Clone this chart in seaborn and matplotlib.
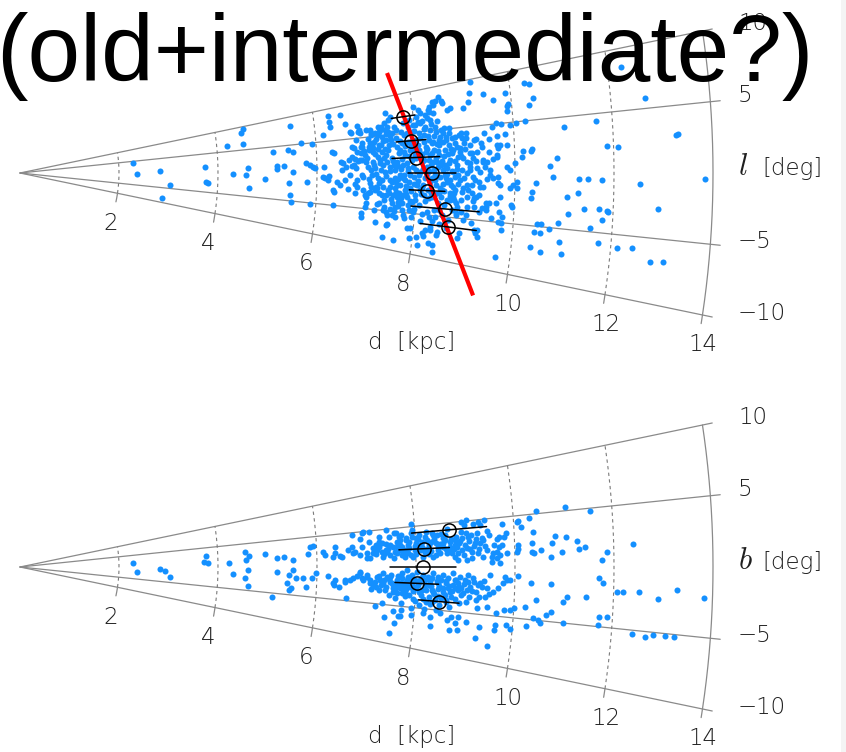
import numpy as np
import pandas as pd
import matplotlib
matplotlib.use("Agg")
import matplotlib.pyplot as plt
from matplotlib.patches import Rectangle
import seaborn as sns

# ---------------------------------------------------------------------------
# Stars in the longitude wedge: (distance d [kpc], longitude l [deg])
# ---------------------------------------------------------------------------
l_stars_near = np.array([
    (2.28, 4.3), (2.36, -0.4), (2.83, 0.7), (3.03, -3.9), (2.91, -8.4), (3.74, 1.6), (3.76, -2.4), (3.80, -2.6), (4.20, 6.3), (4.30, -0.2),
    (4.51, 8.7), (4.57, 9.5), (4.53, 6.3), (4.57, -0.4), (4.61, 1.1), (4.63, -3.2), (4.95, -1.2), (5.13, 4.0), (5.19, 1.3), (5.19, 0.8),
    (5.33, 1.3), (5.43, 4.2), (5.52, 3.7), (5.52, 8.4), (5.52, 0.2), (5.43, -1.8), (5.47, -3.9), (5.49, -5.2), (5.70, 5.2), (5.78, 1.7),
    (5.86, 1.3), (5.92, 1.0), (5.80, -1.5), (5.88, -5.2), (5.92, 4.8), (5.96, 0.8), (6.16, 6.1), (6.16, -0.8), (6.30, 8.9), (6.53, 8.7),
    (6.30, 7.9), (6.32, 7.1), (6.32, 3.3), (6.36, 3.1), (6.32, -2.6), (6.36, -2.9), (6.34, -5.0), (6.22, -1.1), (6.40, -1.4), (6.46, -1.8),
    (6.48, 1.7), (6.61, 7.3), (6.63, -2.4), (6.71, 6.0), (6.73, 5.8), (6.73, 3.8), (6.75, 1.2), (6.79, 0.7), (6.81, -2.0), (6.85, 6.7),
    (6.89, 2.9), (6.93, 3.7), (6.93, -6.2), (6.99, -3.1), (7.03, -2.8), (7.03, 0.8), (7.09, 0.4), (7.11, 5.9), (7.13, 5.2), (7.09, 4.2),
    (7.21, -2.0), (7.23, -6.7), (7.27, -0.9), (7.37, -4.9), (7.39, -8.5), (7.45, -6.8), (7.62, -8.6), (7.54, -2.9), (6.89, 6.1), (6.91, 5.7),
    (7.27, 6.2), (7.29, 5.5), (7.41, 6.6), (7.45, 7.9), (7.49, 6.9), (7.54, 7.3), (6.77, 3.6), (6.91, 3.7), (7.13, 3.9), (7.15, 3.4),
    (7.27, 3.8), (7.33, 4.8), (7.43, 5.2), (7.52, 4.3), (7.47, 5.4), (6.53, 1.5), (6.65, 1.9), (6.81, 3.0), (6.83, 1.7), (6.91, 1.8),
    (6.97, 2.5), (7.07, 3.2), (7.17, 2.6), (7.23, 2.2), (7.33, 2.8), (7.41, 2.4), (6.14, 1.0), (6.51, 0.5), (6.59, 0.9), (6.71, 1.0),
    (6.77, 2.0), (6.12, -0.6), (6.24, -0.5), (6.77, -1.6), (6.81, -1.0), (7.07, -2.6), (7.01, -3.4), (7.19, -1.9), (7.47, -2.6), (7.60, -2.5),
    (7.62, -3.1), (7.74, -2.8), (7.47, -1.8), (6.99, -4.8), (7.23, -4.2), (7.37, -4.5), (7.54, -3.9), (7.60, -4.4), (7.66, -3.7), (7.45, -5.5),
    (7.47, -6.7), (7.62, -5.7), (7.78, -5.3), (7.74, -3.8),
])

l_stars_far = np.array([
    (9.23, 9.7), (9.17, 8.6), (9.45, 8.2), (9.90, 8.0), (8.55, 8.8), (8.61, 8.0), (8.42, 8.3), (8.48, 8.4), (9.13, 7.7), (9.01, 7.1),
    (9.90, 6.7), (9.90, 6.2), (8.02, 8.1), (8.12, 7.6), (8.14, 7.2), (8.34, 7.8), (8.32, 7.4), (8.24, 6.9), (8.40, 7.0), (8.34, 6.2),
    (8.08, 6.2), (7.98, 5.9), (7.94, 5.1), (8.22, 5.5), (8.32, 5.1), (8.44, 4.8), (8.59, 5.1), (8.71, 5.1), (8.93, 4.4), (9.03, 3.8),
    (9.19, 3.5), (9.49, 3.5), (9.66, 3.8), (9.82, 3.9), (9.94, 4.7), (10.06, 4.9), (8.63, 4.1), (8.48, 3.8), (8.36, 3.6), (8.69, 3.2),
    (8.83, 2.9), (8.75, 2.6), (8.89, 2.3), (8.85, 1.8), (8.95, 1.6), (9.03, 1.2), (9.33, 3.2), (9.70, 2.8), (9.66, 2.5), (9.86, 2.8),
    (9.13, 2.2), (9.15, 1.6), (9.35, 1.4), (9.43, 1.1), (9.39, 0.6), (9.56, 1.4), (9.64, 1.6), (9.84, 0.6), (9.90, 0.3), (10.00, 1.0),
    (9.09, 0.6), (9.23, 0.5), (9.29, 0.1), (9.15, -0.4), (9.03, 0.0), (8.93, 0.3), (8.85, -0.2), (8.75, 0.1), (9.49, -0.2), (9.56, -0.5),
    (9.66, -0.4), (9.43, -0.6), (9.35, -1.5), (9.29, -1.5), (9.13, -1.3), (8.95, -1.6), (8.93, -2.1), (9.70, -1.2), (9.90, -1.5), (10.04, -0.9),
    (9.96, -1.2), (8.69, -2.3), (8.75, -2.7), (8.93, -3.0), (9.03, -2.6), (9.13, -2.2), (9.19, -2.7), (9.29, -2.3), (9.70, -2.4), (9.49, -3.1),
    (9.64, -3.1), (9.19, -3.6), (9.05, -3.7), (9.29, -4.1), (9.43, -3.9), (8.85, -3.8), (8.93, -4.3), (8.83, -4.7), (9.70, -3.9), (9.54, -4.6),
    (9.70, -5.0), (9.76, -4.4), (8.99, -5.1), (9.15, -5.4), (9.29, -6.0), (8.34, -6.4), (8.24, -6.8), (8.18, -7.2), (8.08, -7.8), (7.94, -6.8),
    (7.94, -8.0), (8.48, -6.9), (8.93, -6.6), (8.89, -7.2), (9.25, -6.4), (8.12, -8.7), (8.32, -8.3), (8.42, -8.4), (8.44, -9.2), (9.70, -8.5),
    (10.30, 8.6), (10.40, 8.4), (10.44, 7.1), (9.92, 6.8), (10.34, 6.5), (12.28, 8.5), (12.69, 5.8), (10.24, 5.0), (9.76, 4.9), (11.01, 4.1),
    (11.68, 4.4), (13.27, 2.8), (13.31, 2.9), (10.16, 2.1), (10.34, 2.1), (10.36, 2.3), (10.14, 1.5), (10.85, 1.4), (11.86, 2.2), (12.08, 2.1),
    (10.71, 0.6), (10.77, -0.4), (13.84, -0.4), (11.29, -0.5), (11.47, -0.5), (11.76, -0.6), (12.53, -0.9), (10.42, -0.9), (11.27, -1.7), (10.34, -1.8),
    (10.34, -2.4), (10.04, -1.5), (9.94, -3.2), (9.96, -3.4), (11.05, -2.1), (11.41, -3.1), (11.72, -3.0), (11.88, -3.1), (12.91, -2.7), (11.09, -3.6),
    (11.78, -3.9), (11.90, -3.2), (10.91, -4.5), (11.56, -4.7), (9.76, -5.0), (9.76, -5.7), (10.48, -4.8), (10.57, -4.7), (10.44, -5.6), (10.55, -5.6),
    (10.73, -5.1), (10.95, -6.2), (11.01, -7.2), (10.38, -7.0), (10.59, -7.3), (11.74, -5.9), (12.12, -6.1), (12.42, -5.9), (12.81, -6.8), (13.07, -6.7),
    (9.29, -6.8), (9.43, -3.5),
])

l_stars_core = np.array([
    (8.32, 7.2), (8.28, 6.5), (8.42, 7.9), (8.59, 8.3), (8.69, 7.1), (8.75, 7.3), (9.64, 7.5),
    (6.87, 5.9), (7.03, 6.0), (7.13, 5.5), (7.27, 5.1), (7.33, 6.2), (7.41, 5.7), (7.54, 5.2), (7.64, 5.5), (7.88, 5.7), (8.02, 5.9),
    (8.12, 6.0), (8.42, 5.4), (8.53, 5.0), (8.69, 4.5), (8.81, 4.0), (8.89, 4.2), (9.03, 4.3), (9.23, 3.6), (9.39, 4.2), (9.56, 4.7), (9.66, 5.1),
    (6.81, 4.8), (6.93, 4.3), (7.07, 3.6), (7.17, 4.2), (7.31, 3.8), (7.41, 4.4), (7.47, 3.7), (7.62, 3.4), (7.74, 3.8), (8.02, 4.0),
    (8.18, 3.7), (8.22, 3.1), (8.34, 3.5), (8.48, 3.2), (8.63, 3.8), (8.89, 2.8), (8.99, 3.3), (9.09, 2.2), (9.23, 2.2), (9.35, 2.7),
    (9.49, 2.2), (9.64, 2.9), (9.64, 1.8),
    (6.71, 2.3), (6.87, 1.9), (7.01, 2.1), (7.13, 1.5), (7.27, 1.8), (7.33, 1.1), (7.47, 0.8), (7.62, 1.4), (7.74, 1.0), (7.84, 0.6),
    (8.12, 1.3), (8.22, 0.7), (8.42, 1.3), (8.59, 0.9), (8.69, 1.5), (8.83, 0.9), (9.09, 1.1), (9.35, 1.2), (9.49, 0.3),
    (6.93, -0.6), (7.07, -1.4), (7.23, -0.7), (7.33, -1.9), (7.47, -0.9), (7.62, -1.5), (7.78, -0.9), (7.88, -1.9), (8.02, -1.5), (8.48, -0.5),
    (8.63, -1.0), (8.75, -1.6), (8.89, -0.8), (9.03, -1.3), (9.19, -0.7), (9.66, -1.0),
    (6.77, -2.9), (6.93, -2.4), (7.27, -2.7), (7.37, -3.6), (7.68, -3.8), (7.82, -3.0), (7.94, -3.6), (8.34, -2.8), (8.48, -2.3), (8.63, -3.1),
    (8.83, -3.3), (9.23, -2.6), (9.43, -3.1),
    (6.93, -5.7), (7.54, -5.5), (7.74, -4.7), (7.94, -5.4), (8.24, -4.6), (8.42, -5.1), (8.69, -5.3), (8.83, -4.4), (9.03, -4.6), (9.35, -3.7),
    (7.88, -6.9), (8.22, -7.6), (8.34, -6.7), (8.48, -7.2), (9.23, -6.1),
    (7.68, 2.9), (7.78, 2.3), (7.88, 2.9), (7.98, 2.2), (8.08, 2.8), (7.92, 1.6), (8.28, 2.1), (8.38, 2.7), (8.48, 2.1), (8.59, 2.6),
    (7.68, -0.3), (7.88, -0.2), (8.08, 0.1), (8.18, -0.6), (8.28, -1.1), (8.38, -0.2), (8.48, -1.7), (8.08, -2.1), (8.18, -2.6), (7.98, -2.7),
    (7.78, -2.1), (7.58, -0.6), (7.68, -1.5), (8.59, -0.2), (8.69, -0.8), (7.58, 0.4), (7.94, 4.1), (7.78, 4.8), (8.18, 4.6), (8.28, 3.9),
    (7.37, 0.1), (7.17, 0.7), (6.91, -0.3), (6.67, -0.3), (6.57, -1.0), (8.08, -3.9), (7.88, -4.6), (8.59, -3.7), (8.48, -4.3), (8.69, -3.1),
    (8.79, -1.9),
])

l_stars_center = np.array([
    (7.05, 4.7), (7.22, 4.6), (7.38, 3.2), (7.52, 2.0), (7.66, 2.5), (7.72, 1.8), (7.80, 3.4), (7.86, 3.9), (7.95, 3.0), (8.05, 3.4),
    (8.12, 2.3), (8.20, 2.5), (8.26, 1.6), (8.33, 2.3), (8.40, 1.8), (8.46, 2.5), (8.52, 1.4), (8.57, 1.9), (8.66, 2.1), (8.72, 2.7),
    (7.15, 1.1), (7.30, 0.4), (7.42, 1.5), (7.55, 1.1), (7.70, 0.5), (7.82, 1.3), (7.95, 0.7), (8.00, 1.9), (8.14, 0.5), (8.30, 0.9),
    (8.36, 0.3), (8.45, 0.7), (8.55, 0.3), (8.63, 0.6), (8.72, 0.2), (8.80, 1.3),
    (7.12, -0.3), (7.25, -1.3), (7.40, -0.4), (7.52, -1.2), (7.64, -0.8), (7.75, -0.2), (7.85, -1.1), (7.95, -0.5), (8.05, -1.0), (8.12, -1.8),
    (8.22, -0.1), (8.32, -0.6), (8.40, -1.4), (8.55, -1.3), (8.60, -0.6), (8.78, -0.4),
    (7.18, -2.3), (7.32, -3.0), (7.44, -2.2), (7.58, -2.0), (7.70, -3.2), (7.80, -2.6), (7.90, -2.2), (8.00, -3.3), (8.10, -2.5), (8.25, -2.0),
    (8.28, -3.0), (8.40, -2.5), (8.52, -2.8), (8.58, -2.1), (8.70, -2.6), (8.78, -3.0),
    (7.28, -4.0), (7.50, -4.7), (7.65, -4.2), (7.85, -4.0), (7.98, -4.4), (8.15, -4.9), (8.30, -5.2), (8.38, -4.3), (8.55, -4.8), (8.62, -5.5),
    (8.75, -4.1),
    (7.20, 5.4), (7.35, 4.3), (7.50, 4.8), (7.62, 4.5), (7.72, 5.2), (7.85, 5.0), (8.00, 5.2), (8.10, 4.9), (8.26, 4.4), (8.38, 4.3),
    (8.50, 4.2), (8.58, 4.6), (8.75, 3.9), (8.80, 3.4), (8.95, 3.8), (9.10, 3.0),
    (6.95, 3.1), (7.00, 1.5), (7.05, -0.9), (7.10, -2.0), (7.15, 2.9), (7.20, -0.2), (7.25, 3.3), (7.28, 1.4), (7.32, -1.0), (7.36, 2.0),
    (7.40, -2.9), (7.44, 3.0), (7.48, 0.2), (7.50, -3.4), (7.53, 1.6), (7.56, 3.8), (7.60, -1.1), (7.63, 0.9), (7.67, -2.6), (7.70, 4.1),
    (7.73, -0.6), (7.76, 2.7), (7.80, -1.6), (7.83, 0.2), (7.86, 2.1), (7.90, -3.5), (7.92, 3.5), (7.96, -1.3), (8.00, 0.4), (8.03, 2.5),
    (8.06, -0.3), (8.10, 4.3), (8.14, -1.4), (8.17, 1.6), (8.20, -3.3), (8.24, 2.9), (8.27, 0.2), (8.31, -2.4), (8.35, 1.3), (8.39, -0.8),
    (8.43, 3.4), (8.47, -3.5), (8.51, 0.9), (8.54, -2.0), (8.57, 3.6), (8.62, -0.1), (8.66, 1.1), (8.70, -1.4), (8.74, 2.3), (8.78, -2.2),
    (8.82, 0.5), (8.86, -1.2), (8.91, 1.9), (8.96, -0.5), (9.00, 2.6), (9.05, -1.8), (9.10, 0.3), (9.16, -3.0), (9.22, 1.3), (9.28, -0.9),
    (7.00, -4.2), (7.18, -5.0), (7.42, -5.1), (7.58, -4.9), (7.80, -5.7), (7.96, -4.8), (8.12, -5.8), (8.36, -5.7), (8.50, -5.9), (8.65, -6.2),
    (7.30, 5.8), (7.46, 6.1), (7.60, 5.9), (7.78, 6.3), (7.92, 6.6), (8.05, 6.8), (8.18, 6.3), (8.20, 5.3), (8.35, 5.8), (8.48, 6.0),
])

# ---------------------------------------------------------------------------
# Stars in the latitude wedge: (distance d [kpc], latitude b [deg])
# ---------------------------------------------------------------------------
b_stars_near = np.array([
    (2.28, 1.7), (2.36, -2.1), (2.83, -0.7), (2.93, -1.3), (3.03, -3.2), (3.76, 2.9), (3.72, 1.3), (3.80, 1.0), (4.22, 0.9), (4.30, -1.6),
    (4.55, 3.2), (4.63, 2.3), (4.57, 1.5), (4.61, -0.6), (4.55, -2.4), (4.61, -4.1), (4.95, 2.6), (5.19, 1.7), (5.33, 1.8), (5.19, -0.9),
    (5.11, -5.8), (5.43, -1.4), (5.52, -0.5), (5.52, 1.2), (5.41, -2.9), (5.45, -4.1), (5.49, -3.8), (5.58, -1.9), (5.72, -1.9), (5.78, -3.4),
    (5.90, -1.8), (5.98, -1.0), (5.82, 2.2), (5.86, 3.4), (5.94, 3.5), (6.22, -1.4), (6.12, 2.4), (6.16, 1.9), (6.32, 1.6), (6.36, 2.2),
    (6.32, -2.5), (6.36, -2.8), (6.46, -3.0), (6.57, -2.2), (6.67, -1.9), (6.73, -1.6), (6.61, -4.6), (6.46, 1.7), (6.63, 2.5), (6.71, 2.9),
    (6.73, 2.0), (6.87, 1.7), (6.91, 2.8), (6.73, 4.7), (6.93, 4.8), (7.07, 4.9), (7.01, 2.0), (7.07, 1.2), (7.13, 1.9), (7.21, 2.3),
    (7.27, 2.7), (7.33, 1.3), (7.41, 2.0), (7.47, 1.6), (7.54, 2.6), (7.62, 1.8), (7.68, 2.2), (7.07, 3.5), (7.27, 4.1), (7.33, 3.2),
    (7.43, 4.9), (7.58, 4.4), (7.68, 3.8), (7.62, 3.2), (6.87, -0.9), (6.93, -1.8), (7.01, -1.4), (7.07, -2.2), (7.21, -2.7), (7.27, -3.1),
    (7.33, -2.1), (7.41, -1.3), (7.47, -2.0), (7.54, -2.7), (7.62, -3.4), (7.68, -2.3), (7.74, -2.9), (7.82, -1.6), (7.88, -3.5), (7.94, -2.5),
    (7.21, -5.3), (7.33, -4.8), (7.58, -5.7), (7.68, -6.3), (7.62, -7.2), (7.54, -8.6),
    (6.38, 3.1), (6.51, 1.5), (6.77, 2.2), (6.89, 4.0), (6.95, 4.9), (7.01, 1.3), (7.13, 2.6), (7.21, 3.0), (7.27, 3.4), (7.31, 2.0),
    (7.41, 2.3), (7.47, 3.9), (7.62, 4.4), (7.68, 2.8), (7.74, 2.2), (7.82, 3.4),
    (6.36, -2.0), (6.57, -1.9), (6.81, -1.3), (6.87, -0.7), (6.91, -1.6), (7.01, -1.1), (7.13, -2.5), (7.21, -1.4), (7.27, -1.8), (7.33, -0.8),
    (7.47, -1.3), (7.54, -2.3), (7.62, -1.7), (7.68, -2.7), (7.78, -2.0), (7.84, -1.3), (7.47, -3.7), (7.78, -3.2),
])

b_stars_core = np.array([
    (7.94, 5.3), (8.95, 4.9), (8.99, 4.6), (9.19, 4.6), (9.41, 4.9), (9.33, 4.4), (9.76, 4.3), (10.06, 4.4), (7.72, 4.1), (7.82, 3.6),
    (7.94, 3.7), (8.08, 3.9), (8.22, 4.2), (8.34, 4.0), (8.44, 3.7), (8.55, 3.3), (8.69, 2.8), (8.83, 3.3), (8.95, 3.2), (9.03, 3.7),
    (9.13, 3.4), (9.25, 3.6), (9.49, 3.3), (9.70, 3.0), (9.84, 3.4), (9.64, 2.8), (7.72, 2.5), (7.84, 2.8), (8.02, 2.9), (8.28, 2.6),
    (8.42, 2.8), (8.55, 2.3), (8.69, 2.3), (8.83, 2.2), (8.93, 1.9), (9.03, 2.1), (9.13, 1.6), (9.25, 1.5), (9.13, 1.0), (9.35, 1.0),
    (9.54, 1.0), (9.70, 1.2), (9.84, 1.4), (10.04, 1.5), (10.06, 2.1), (7.72, 1.5), (7.78, 1.3), (7.84, 1.8), (7.94, 1.2), (8.34, 1.2),
    (8.63, 1.6), (8.79, 1.1), (8.85, 0.8), (9.03, 0.8), (9.70, 0.4), (9.64, 0.9), (9.54, 0.5),
    (7.72, -0.8), (7.82, -0.4), (7.92, -1.0), (8.02, -0.6), (8.14, -1.0), (8.24, -1.2), (8.34, -0.7), (8.44, -1.2), (8.55, -0.9), (8.65, -1.2),
    (8.75, -0.7), (8.89, -1.1), (8.99, -1.4), (9.05, -0.9), (9.15, -1.2), (9.25, -1.9), (9.33, -2.1), (9.45, -2.2), (9.49, -0.8), (9.66, -2.1),
    (9.76, -1.6), (9.84, -1.3), (10.06, -0.9), (8.34, -2.7), (8.55, -2.4), (8.69, -2.8), (8.75, -2.0), (8.85, -2.6), (8.93, -3.1), (9.03, -2.5),
    (9.09, -3.2), (9.23, -2.7), (9.29, -3.2), (7.88, -2.5), (7.74, -3.3), (7.72, -4.6), (7.74, -5.5), (7.94, -5.1), (8.08, -4.6), (8.22, -4.2),
    (8.34, -4.1), (8.48, -4.4), (8.63, -4.0), (8.89, -4.0), (9.03, -3.8), (9.23, -3.5), (7.94, -5.9), (8.18, -5.5), (8.32, -5.9), (8.53, -5.3),
    (8.75, -5.6), (8.89, -5.5), (9.05, -6.0), (9.25, -4.4), (9.45, -4.2), (9.64, -4.7), (10.00, -4.0), (8.34, -6.9), (8.73, -7.1), (8.83, -6.2),
    (9.33, -6.3), (9.64, -5.9), (9.64, -6.4), (9.86, -5.8), (9.54, -8.2),
    (7.98, 2.1), (8.18, 1.8), (8.44, 2.0), (8.08, 2.7), (8.59, 3.1), (8.79, 2.5), (8.24, 3.2), (7.98, -1.6), (8.18, -2.2), (8.44, -1.9),
    (8.08, -3.0), (8.59, -3.2), (8.79, -1.5), (8.28, -3.6), (8.08, -1.6),
])

b_stars_center = np.array([
    (7.55, 1.2), (7.65, 3.0), (7.80, 2.2), (7.88, 3.1), (7.92, 4.2), (8.00, 1.6), (8.05, 3.4), (8.12, 2.4), (8.15, 1.2), (8.20, 3.6),
    (8.30, 1.9), (8.38, 3.3), (8.40, 1.4), (8.50, 2.6), (8.52, 3.8), (8.62, 2.0), (8.66, 4.3), (8.74, 1.6), (8.80, 3.0), (8.88, 2.6),
    (8.92, 3.9), (8.98, 1.3), (9.08, 2.8), (9.18, 2.2), (9.22, 3.0), (9.30, 2.5), (9.40, 2.2), (9.45, 3.7), (9.58, 2.3), (9.75, 2.2),
    (7.40, 3.0), (7.48, 2.9), (7.20, 1.8), (7.36, 1.7),
    (7.50, -1.0), (7.60, -2.3), (7.72, -1.4), (7.80, -2.8), (7.90, -1.8), (7.96, -3.0), (8.04, -2.2), (8.10, -1.3), (8.12, -3.4), (8.22, -2.7),
    (8.28, -1.7), (8.30, -2.3), (8.38, -3.2), (8.45, -2.6), (8.50, -1.5), (8.52, -3.6), (8.62, -1.8), (8.65, -2.4), (8.72, -3.4), (8.80, -2.3),
    (8.85, -1.8), (8.92, -2.3), (8.98, -1.9), (9.10, -2.2), (9.18, -1.6), (9.38, -1.5), (7.40, -2.6), (7.35, -1.7), (7.18, -2.0), (7.08, -1.8),
    (7.10, -3.0), (7.55, -3.2), (7.95, -3.9), (8.40, -3.8), (8.70, -4.5), (8.20, -5.0),
    (7.45, 2.4), (7.58, 1.9), (7.62, 2.6), (7.70, 3.4), (7.76, 1.9), (7.86, 2.4), (7.90, 1.5), (7.98, 2.6), (8.02, 3.6), (8.10, 2.0),
    (8.14, 3.0), (8.22, 2.2), (8.26, 1.5), (8.32, 2.9), (8.36, 3.7), (8.46, 2.3), (8.48, 1.6), (8.56, 2.8), (8.60, 3.6), (8.68, 1.9),
    (8.72, 3.2), (8.78, 2.0), (8.86, 1.6), (8.90, 2.9), (9.00, 2.4), (9.06, 3.3), (9.10, 1.9), (9.20, 2.6), (9.28, 1.9), (9.36, 2.8),
    (7.25, -1.2), (7.30, -2.4), (7.38, -3.1), (7.45, -1.6), (7.52, -2.1), (7.58, -2.8), (7.64, -1.2), (7.70, -2.0), (7.76, -2.5), (7.84, -2.2),
    (7.88, -1.2), (7.94, -1.9), (8.00, -2.6), (8.06, -1.8), (8.14, -2.8), (8.18, -1.5), (8.26, -2.1), (8.32, -1.3), (8.36, -2.9), (8.42, -1.6),
    (8.48, -2.2), (8.56, -2.9), (8.60, -1.6), (8.68, -2.1), (8.74, -2.7), (8.82, -1.4), (8.88, -2.2), (8.96, -2.8), (9.06, -1.6), (9.14, -2.6),
    (7.80, -3.7), (8.00, -4.2), (8.16, -3.8), (8.30, -4.4), (8.46, -3.4), (8.62, -3.8), (8.80, -3.6), (7.60, -4.0),
])

b_stars_far = np.array([
    (10.46, 5.3), (11.05, 5.3), (11.56, 4.8), (10.10, 4.5), (10.32, 4.7), (10.14, 3.9), (9.80, 3.0), (10.38, 3.3), (10.36, 2.3), (10.38, 1.3),
    (10.83, 2.8), (11.05, 2.7), (11.27, 2.3), (11.29, 1.6), (11.41, 1.7), (10.75, 2.2), (10.53, 1.6), (10.73, 0.9), (10.95, 1.3), (10.06, 1.8),
    (10.34, 1.4), (11.86, 1.2), (11.76, 0.6), (12.40, 1.8), (9.64, 1.5), (9.68, 2.0), (9.80, -1.0), (9.90, -1.3), (10.32, -1.5), (10.73, -1.6),
    (11.70, -0.9), (11.78, -1.3), (12.06, -2.0), (12.18, -2.0), (12.51, -2.0), (12.91, -2.4), (13.27, -1.7), (13.82, -2.2), (11.45, -2.6), (11.07, -2.7),
    (10.99, -3.1), (10.44, -3.1), (9.92, -4.3), (9.80, -4.3), (10.22, -3.8), (10.40, -4.8), (10.51, -5.0), (10.55, -5.2), (10.75, -4.1), (10.65, -4.4),
    (11.72, -4.2), (11.88, -4.1), (11.72, -4.9), (11.01, -5.0), (10.28, -5.6), (9.96, -6.1), (9.27, -7.5), (12.42, -5.3), (12.69, -5.4), (12.85, -5.2),
    (13.09, -5.2), (13.27, -5.2), (8.89, -7.0), (8.67, -6.0), (8.44, -5.0), (7.72, -6.2), (7.41, -6.6), (9.49, -2.8), (9.41, -3.1), (9.56, -2.6),
    (9.29, -1.7), (9.35, 3.0), (9.43, 1.8), (9.56, 1.4), (9.05, 5.1), (9.29, 4.8), (7.94, 4.6),
])

# Binned mean distances with their spread, per angular bin
l_bin_angle = [7.1, 4.0, 1.9, 0.0, -2.1, -4.1, -6.1]
l_bin_dist = [7.80, 7.92, 8.00, 8.32, 8.23, 8.61, 8.70]
l_bin_err = [0.24, 0.30, 0.48, 0.48, 0.36, 0.69, 0.57]

b_bin_angle = [4.2, 2.2, 0.0, -2.0, -4.0]
b_bin_dist = [8.69, 8.17, 8.14, 8.02, 8.48]
b_bin_err = [0.76, 0.51, 0.66, 0.44, 0.41]

# End points of the fitted bar major axis (distance, longitude)
bar_dist = [7.61, 9.39]
bar_angle = [13.0, -12.9]

dist_ticks = [2, 4, 6, 8, 10, 12, 14]
angle_ticks = [10, 5, -5, -10]

# ---------------------------------------------------------------------------
BLUE = "#1490ff"
GRID = "#8a8a8a"
DASH = "#7a7a7a"
TXT = "#1f1f1f"
FS = 16.5
W, H = 846, 752

sns.set_style("white")
plt.rcParams["font.family"] = ["DejaVu Sans"]
plt.rcParams["font.weight"] = 200
plt.rcParams["mathtext.fontset"] = "cm"


def to_plane(d, a):
    r = np.radians(np.asarray(a, dtype=float))
    d = np.asarray(d, dtype=float)
    return d * np.cos(r), d * np.sin(r)


def draw_wedge(ax, stars, bin_dist, bin_angle, bin_err, angle_name):
    # radial guide lines
    for a in angle_ticks:
        x, y = to_plane([0, 14.2], [a, a])
        ax.plot(x, y, color=GRID, lw=0.9, zorder=1)
    t = np.linspace(-10, 10, 200)
    x, y = to_plane(np.full_like(t, 14.0), t)
    ax.plot(x, y, color=GRID, lw=0.9, zorder=1)
    for d in dist_ticks[:-1]:
        x, y = to_plane(np.full_like(t, float(d)), t)
        ax.plot(x, y, color=DASH, lw=0.8, ls=(0, (3, 3)), zorder=1)
    # small outward ticks on the lower edge
    for d in dist_ticks:
        tt = np.linspace(-10, -10 - np.degrees(0.15 / d), 5)
        x, y = to_plane(np.full_like(tt, float(d)), tt)
        ax.plot(x, y, color=GRID, lw=0.9, zorder=1)

    df = pd.DataFrame(stars, columns=["d", "a"])
    df["x"], df["y"] = to_plane(df["d"], df["a"])
    sns.scatterplot(data=df, x="x", y="y", ax=ax, color=BLUE, s=19,
                    linewidth=0, legend=False, zorder=3)

    # binned means with distance spread along the line of sight
    for d, a, e in zip(bin_dist, bin_angle, bin_err):
        x, y = to_plane([d - e, d + e], [a, a])
        ax.plot(x, y, color="black", lw=1.1, zorder=5)
    bx, by = to_plane(bin_dist, bin_angle)
    ax.plot(bx, by, ls="none", marker="o", ms=9.5, mfc="none", mec="black",
            mew=1.1, zorder=6)

    # distance labels below the wedge
    for d in dist_ticks:
        x, y = to_plane(d, -10)
        ax.annotate(str(d), (x, y), xytext=(-14, -30), textcoords="offset pixels",
                    ha="left", va="center", fontsize=FS, color=TXT)
    # angle labels at the right
    xr = (738 - 20) / 49.5
    for a in angle_ticks:
        _, y = to_plane(14.2, a)
        lab = str(a).replace("-", "\u2212")
        ax.annotate(lab, (xr, y), xytext=(0, -1 if a > 0 else -3),
                    textcoords="offset pixels", ha="left", va="baseline",
                    fontsize=FS, color=TXT)
    ax.annotate(angle_name, (xr, 0), xytext=(0, -2),
                textcoords="offset pixels", ha="left", va="baseline",
                fontsize=22, color=TXT)
    ax.annotate("[deg]", (xr, 0), xytext=(24, -2),
                textcoords="offset pixels", ha="left", va="baseline",
                fontsize=FS, color=TXT)

    ax.set_xlim(-20 / 49.5, (W - 20) / 49.5)
    ax.set_axis_off()


fig = plt.figure(figsize=(W / 100, H / 100), dpi=100)

# upper wedge: apex at pixel row 173, panel spans rows 0-394
ax_l = fig.add_axes([0, 358 / H, 1, 394 / H])
draw_wedge(ax_l, np.vstack([l_stars_near, l_stars_far, l_stars_core, l_stars_center]),
           l_bin_dist, l_bin_angle, l_bin_err, r"$l$")
ax_l.set_ylim((173 - 394) / 58.4, 173 / 58.4)
rx, ry = to_plane(bar_dist, bar_angle)
ax_l.plot(rx, ry, color="#ff0000", lw=3.0, solid_capstyle="butt", zorder=4)

# lower wedge: apex at pixel row 567, panel spans rows 394-752
ax_b = fig.add_axes([0, 0, 1, 358 / H])
draw_wedge(ax_b, np.vstack([b_stars_near, b_stars_core, b_stars_center, b_stars_far]),
           b_bin_dist, b_bin_angle, b_bin_err, r"$b$")
ax_b.set_ylim((567 - 752) / 58.4, (567 - 394) / 58.4)

fig.text(412 / W, 1 - 343 / H, "d  [kpc]", ha="center", va="center",
         fontsize=FS, color=TXT)
fig.text(412 / W, 1 - 737 / H, "d  [kpc]", ha="center", va="center",
         fontsize=FS, color=TXT)

fig.text(-4 / W, 1 - 81 / H, "(old+intermediate?)", fontsize=68,
         family=["Liberation Sans", "DejaVu Sans"], weight="normal",
         ha="left", va="baseline", color="black", zorder=10)

fig.patches.append(Rectangle((841 / W, 0), 5 / W, 1, transform=fig.transFigure,
                             facecolor="#f4f4f4", edgecolor="none", zorder=-1))

fig.savefig("out.png", dpi=100)
